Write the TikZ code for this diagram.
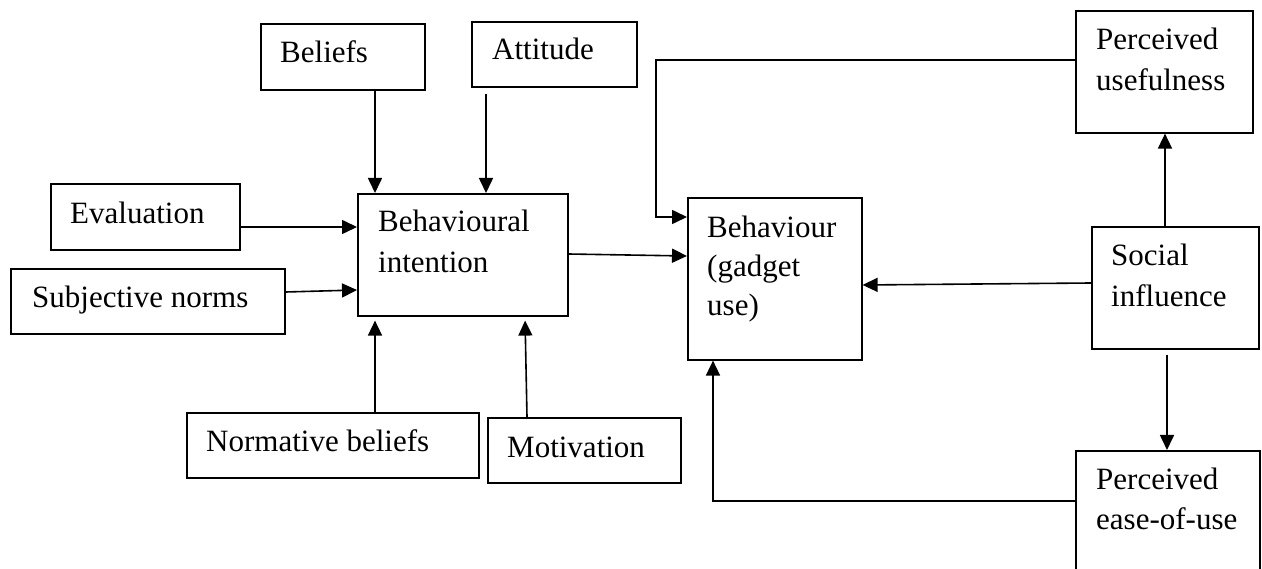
\documentclass[tikz,border=0pt]{standalone}
\usepackage{fontspec}
\setmainfont{Liberation Serif}
\usetikzlibrary{arrows.meta}
\begin{document}
\begin{tikzpicture}[x=1pt,y=-1pt,
  box/.style={draw,line width=1.6pt,rectangle,inner sep=0pt,anchor=north west},
  txt/.style={inner sep=0pt,anchor=base west,font=\fontsize{31}{40}\selectfont},
  arr/.style={line width=1.6pt,-{Triangle[length=15pt,width=14pt]}},
  line join=miter]
\useasboundingbox (0,0) rectangle (1262,569);
\fill[white] (0,0) rectangle (1262,569);
\clip (0,0) rectangle (1262,569);
% boxes
\node[box,minimum width=164pt,minimum height=66pt] (bel) at (260,23) {};
\node[box,minimum width=165pt,minimum height=65pt] (att) at (471,21) {};
\node[box,minimum width=189pt,minimum height=66pt] (eval) at (50,183) {};
\node[box,minimum width=210pt,minimum height=122pt] (bi) at (357,193) {};
\node[box,minimum width=274pt,minimum height=65pt] (sn) at (10,268) {};
\node[box,minimum width=292pt,minimum height=65pt] (nb) at (186,412) {};
\node[box,minimum width=193pt,minimum height=65pt] (mot) at (487,417) {};
\node[box,minimum width=177pt,minimum height=122pt] (pu) at (1075,10) {};
\node[box,minimum width=174pt,minimum height=162pt] (beh) at (687,197) {};
\node[box,minimum width=167pt,minimum height=122pt] (si) at (1091,226) {};
\node[box,minimum width=184pt,minimum height=160pt] (peou) at (1075,450) {};
% texts
\node[txt] (tbel) at (280,63) {Beliefs};
\node[txt] (tatt) at (492,60) {Attitude};
\node[txt] (teval) at (70,224) {Evaluation};
\node[txt] (tbi1) at (378,232) {Behavioural};
\node[txt] (tbi2) at (378,273) {intention};
\node[txt] (tsn) at (32,308) {Subjective norms};
\node[txt] (tnb) at (206,452) {Normative beliefs};
\node[txt] (tmot) at (507,457) {Motivation};
\node[txt] (tpu1) at (1096,50) {Perceived};
\node[txt] (tpu2) at (1096,91) {usefulness};
\node[txt] (tbeh1) at (707,238) {Behaviour};
\node[txt] (tbeh2) at (707,277) {(gadget};
\node[txt] (tbeh3) at (707,316) {use)};
\node[txt] (tsi1) at (1111,266) {Social};
\node[txt] (tsi2) at (1111,307) {influence};
\node[txt] (tpe1) at (1096,489) {Perceived};
\node[txt] (tpe2) at (1096,529) {ease-of-use};
% helper coordinates
\coordinate (xa) at (375,0);
\coordinate (xb) at (486,0);
\coordinate (ya) at (0,227);
\coordinate (ys1) at (0,292);
\coordinate (ys2) at (0,290);
\coordinate (xm1) at (527,0);
\coordinate (xm2) at (525,0);
\coordinate (yb1) at (0,254);
\coordinate (yb2) at (0,256);
\coordinate (c1) at (656,60);
\coordinate (c2) at (656,217);
\coordinate (xs) at (1165,0);
\coordinate (xt) at (1167,0);
\coordinate (yi1) at (0,283);
\coordinate (yi2) at (0,285);
\coordinate (ype) at (0,501);
\coordinate (xe) at (713,0);
% connectors
\draw[arr] (bel.south -| xa) -- (bi.north -| xa);
\draw[arr,shorten <=6pt] (att.south -| xb) -- (bi.north -| xb);
\draw[arr] (eval.east |- ya) -- (bi.west |- ya);
\draw[arr] (sn.east |- ys1) -- (bi.west |- ys2);
\draw[arr,shorten >=4pt] (nb.north -| xa) -- (bi.south -| xa);
\draw[arr,shorten >=4pt] (mot.north -| xm1) -- (bi.south -| xm2);
\draw[arr] (bi.east |- yb1) -- (beh.west |- yb2);
\draw[arr] (pu.west |- c1) -- (c1) -- (c2) -- (beh.west |- c2);
\draw[arr] (si.north -| xs) -- (pu.south -| xs);
\draw[arr] (si.west |- yi1) -- (beh.east |- yi2);
\draw[arr,shorten <=5pt] (si.south -| xt) -- (peou.north -| xt);
\draw[arr] (peou.west |- ype) -| (beh.south -| xe);
\end{tikzpicture}
\end{document}
